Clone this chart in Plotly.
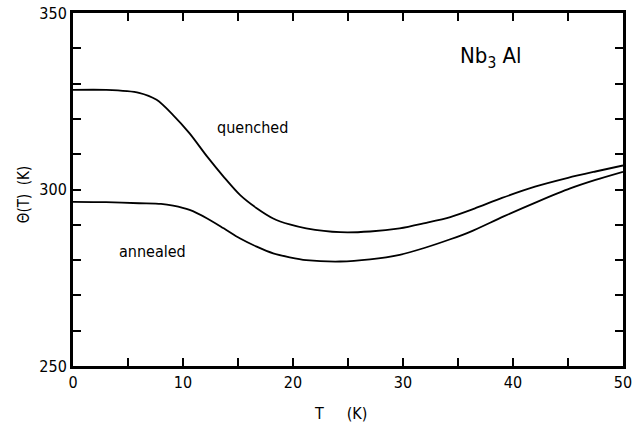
import plotly.graph_objects as go

# Data
T_quenched = [0, 3, 6, 7.6, 9.1, 10.6, 12.2, 13.7, 15.2, 16.7, 18.2, 19.7, 21.2, 24.3, 27,
              29.7, 32, 34.3, 36.5, 39, 42, 45, 47.5, 50]
theta_quenched = [328.2, 328.2, 327.4, 325.4, 321.1, 315.9, 309.3, 303.6, 298.4, 294.7, 291.8,
                  290.1, 289.0, 287.9, 288.1, 289.0, 290.5, 292.2, 294.6, 297.6, 300.8, 303.3,
                  305.1, 306.8]
T_annealed = [0, 3, 6, 8, 9.1, 10.6, 12.2, 13.7, 15.2, 16.7, 18.2, 19.7, 21.2, 24.3, 27, 29.7,
              32, 34.3, 36.1, 39.1, 42.2, 45.2, 47.5, 50]
theta_annealed = [296.5, 296.4, 296.1, 295.9, 295.4, 294.2, 291.8, 289.0, 286.1, 283.8, 281.9,
                  280.8, 280.0, 279.6, 280.2, 281.5, 283.5, 285.9, 288.0, 292.3, 296.5, 300.3,
                  302.7, 305.0]

x_ticks = [0, 10, 20, 30, 40, 50]
y_ticks = [250, 300, 350]

FONT = "DejaVu Sans Condensed, Liberation Sans Narrow, DejaVu Sans, sans-serif"

fig = go.Figure()
for xs, ys in ((T_quenched, theta_quenched), (T_annealed, theta_annealed)):
    fig.add_trace(go.Scatter(x=xs, y=ys, mode="lines",
                             line=dict(color="black", width=1.8, shape="spline", smoothing=0.8),
                             showlegend=False, hoverinfo="skip"))

axis_common = dict(showline=True, linecolor="black", linewidth=3, mirror="ticks",
                   ticks="inside", ticklen=8, tickwidth=1.5, tickcolor="black",
                   showgrid=False, zeroline=False, automargin=False,
                   ticklabeloverflow="allow",
                   tickfont=dict(family=FONT, size=16, color="black"))

fig.update_xaxes(range=[0, 50], tickmode="array", tickvals=x_ticks,
                 minor=dict(dtick=5, ticks="inside", ticklen=8, tickwidth=1.5, tickcolor="black"),
                 **axis_common)
fig.update_yaxes(range=[250, 350], tickmode="array", tickvals=y_ticks,
                 minor=dict(dtick=10, ticks="inside", ticklen=8, tickwidth=1.5, tickcolor="black"),
                 **axis_common)

# axis titles
fig.add_annotation(xref="paper", yref="paper", x=0.487, y=-0.135, yanchor="middle",
                   text="T     (K)", showarrow=False,
                   font=dict(family=FONT, size=16, color="black"))
fig.add_annotation(xref="paper", yref="paper", x=-0.089, y=0.484, xanchor="center",
                   text="Θ(T)  (K)", textangle=-90, showarrow=False,
                   font=dict(family=FONT, size=15, color="black"))

# in-plot labels
fig.add_annotation(x=16.3, y=317.7, text="quenched", showarrow=False,
                   font=dict(family=FONT, size=16, color="black"))
fig.add_annotation(x=7.2, y=282.3, text="annealed", showarrow=False,
                   font=dict(family=FONT, size=16, color="black"))
fig.add_annotation(x=38.0, y=337.3, text="Nb<sub>3</sub> Al", showarrow=False,
                   font=dict(family=FONT, size=22, color="black"))

fig.update_layout(width=637, height=425, margin=dict(l=73, r=14, t=13, b=59),
                  plot_bgcolor="white", paper_bgcolor="white")

# remove the default page-body margin so the figure fills the window exactly
fig.write_html("out.html", config={"displayModeBar": False},
               post_script="document.body.style.margin='0';")
